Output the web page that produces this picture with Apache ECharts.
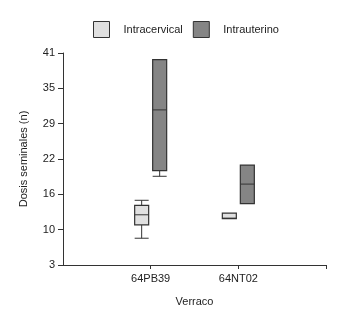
<!DOCTYPE html>
<html>
<head>
<meta charset="utf-8">
<script src="https://cdn.jsdelivr.net/npm/echarts@6/dist/echarts.min.js"></script>
<style>
  html, body { margin: 0; padding: 0; background: #fff; }
  #chart-container { width: 338px; height: 312px; }
</style>
</head>
<body>
<div id="chart-container"></div>
<script>
var dom = document.getElementById("chart-container");
var myChart = echarts.init(dom, null, { renderer: "canvas" });

var categories = ["64PB39", "64NT02"];
var groups = ["Intracervical", "Intrauterino"];
// [category position, min, q1, median, q3, max]
var intracervical = [
  [1, 7.8, 10.2, 12.0, 13.7, 14.6],
  [2, 11.3, 11.3, 11.4, 12.3, 12.3],
];
var intrauterino = [
  [1, 18.9, 19.9, 30.8, 39.8, 39.8],
  [2, 14.0, 14.0, 17.5, 20.9, 20.9],
];
var yTicks = [3, 10, 16, 22, 29, 35, 41];

var font = "Liberation Sans, Arial, sans-serif";
var ink = "#333";

// ticks drawn evenly between 3 and 41, labelled as in the figure
var yMin = 3, yMax = 41;
var yTickPos = yTicks.map(function (t, i) {
  return yMin + (i * (yMax - yMin)) / (yTicks.length - 1);
});

function boxRenderer(offset) {
  return function (params, api) {
    var x = api.value(0);
    var pMin = api.coord([x, api.value(1)]);
    var pQ1 = api.coord([x, api.value(2)]);
    var pMed = api.coord([x, api.value(3)]);
    var pQ3 = api.coord([x, api.value(4)]);
    var pMax = api.coord([x, api.value(5)]);
    var cx = pMed[0] + offset;
    var hw = 7;
    var style = api.style();
    var line = { stroke: ink, lineWidth: 1 };
    var children = [];
    if (pMax[1] < pQ3[1] - 0.5) {
      children.push({ type: "line", shape: { x1: cx, y1: pMax[1], x2: cx, y2: pQ3[1] }, style: line });
      children.push({ type: "line", shape: { x1: cx - hw, y1: pMax[1], x2: cx + hw, y2: pMax[1] }, style: line });
    }
    if (pMin[1] > pQ1[1] + 0.5) {
      children.push({ type: "line", shape: { x1: cx, y1: pQ1[1], x2: cx, y2: pMin[1] }, style: line });
      children.push({ type: "line", shape: { x1: cx - hw, y1: pMin[1], x2: cx + hw, y2: pMin[1] }, style: line });
    }
    children.push({
      type: "rect",
      shape: { x: cx - hw, y: pQ3[1], width: hw * 2, height: pQ1[1] - pQ3[1] },
      style: { fill: style.fill, stroke: ink, lineWidth: 1.2 },
    });
    children.push({ type: "line", shape: { x1: cx - hw, y1: pMed[1], x2: cx + hw, y2: pMed[1] }, style: line });
    return { type: "group", children: children };
  };
}

var option = {
  animation: false,
  textStyle: { fontFamily: font },
  legend: {
    left: 93,
    top: 21,
    padding: 0,
    itemWidth: 16,
    itemHeight: 16,
    itemGap: 10,
    icon: "rect",
    itemStyle: { borderColor: ink, borderWidth: 1 },
    textStyle: { fontSize: 11, color: "#222", padding: [0, 0, 0, 9] },
    data: groups,
  },
  grid: { left: 63, right: 12, top: 53, bottom: 42, containLabel: false },
  xAxis: {
    type: "value",
    min: 0,
    max: 3,
    name: "Verraco",
    nameLocation: "middle",
    nameGap: 31,
    nameTextStyle: { fontSize: 11, color: "#222" },
    splitLine: { show: false },
    axisLine: { lineStyle: { color: ink } },
    axisTick: { length: 4, lineStyle: { color: ink }, customValues: [1, 2, 3] },
    axisLabel: {
      fontSize: 11,
      color: "#222",
      margin: 8,
      customValues: [1, 2],
      formatter: function (v) { return categories[Math.round(v) - 1]; },
    },
  },
  yAxis: {
    type: "value",
    min: yMin,
    max: yMax,
    name: "Dosis seminales (n)",
    nameLocation: "middle",
    nameGap: 34,
    nameTextStyle: { fontSize: 11, color: "#222" },
    splitLine: { show: false },
    axisLine: { show: true, lineStyle: { color: ink } },
    axisTick: { show: true, length: 5, lineStyle: { color: ink }, customValues: yTickPos },
    axisLabel: {
      fontSize: 11,
      color: "#222",
      margin: 8,
      customValues: yTickPos,
      formatter: function (v) {
        var i = Math.round(((v - yMin) * (yTicks.length - 1)) / (yMax - yMin));
        return yTicks[i];
      },
    },
  },
  series: [
    {
      name: groups[0],
      type: "custom",
      renderItem: boxRenderer(-9),
      itemStyle: { color: "#e0e0e0" },
      encode: { x: 0, y: [1, 2, 3, 4, 5] },
      data: intracervical,
    },
    {
      name: groups[1],
      type: "custom",
      renderItem: boxRenderer(9),
      itemStyle: { color: "#858585" },
      encode: { x: 0, y: [1, 2, 3, 4, 5] },
      data: intrauterino,
    },
  ],
};

myChart.setOption(option);
</script>
</body>
</html>
